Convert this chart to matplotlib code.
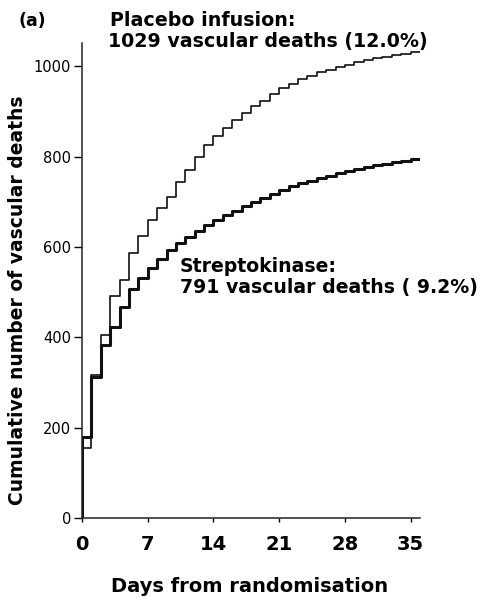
import numpy as np
import matplotlib
matplotlib.use('Agg')
import matplotlib.pyplot as plt

plt.rcParams['font.family'] = ['DejaVu Sans']

# cumulative vascular deaths at the end of each day 0..35
placebo = [155, 317, 405, 491, 528, 587, 625, 661, 687, 712,
           745, 771, 800, 827, 847, 864, 882, 898, 912, 924,
           938, 952, 962, 972, 980, 987, 993, 999, 1004, 1009,
           1014, 1018, 1022, 1025, 1028, 1031]
strepto = [180, 312, 383, 424, 468, 507, 532, 553, 574, 593,
           609, 623, 636, 648, 659, 670, 681, 691, 700, 709,
           718, 727, 735, 741, 747, 753, 758, 763, 768, 773,
           777, 781, 785, 788, 791, 794]
x_ticks = [0, 7, 14, 21, 28, 35]
y_ticks = [0, 200, 400, 600, 800, 1000]

days = np.arange(len(placebo))
xs = np.concatenate([[0], days, [36]])

fig = plt.figure(figsize=(4.92, 5.98), dpi=100)
ax = fig.add_axes([82/492, 80/598, 338/492, 475/598])

for vals, lw in [(placebo, 1.2), (strepto, 2.2)]:
    ys = np.concatenate([[0], vals, [vals[-1]]])
    ax.plot(xs, ys, drawstyle='steps-post', color='#111111', lw=lw)

ax.set_xlim(0, 36)
ax.set_ylim(0, 1052)
ax.spines['top'].set_visible(False)
ax.spines['right'].set_visible(False)
for s in ['left', 'bottom']:
    ax.spines[s].set_linewidth(1.1)
    ax.spines[s].set_color('#222222')

ax.set_xticks(x_ticks)
ax.set_yticks(y_ticks)
ax.tick_params(axis='x', length=3, width=1, pad=9, labelsize=14)
ax.tick_params(axis='y', length=6, width=1, pad=2, labelsize=10.5)
for t in ax.get_xticklabels():
    t.set_fontweight('bold')

ax.set_xlabel('Days from randomisation', fontsize=14, fontweight='bold', va='center')
ax.xaxis.set_label_coords(0.5 - 1/338, (518 - 587) / 475)
ax.set_ylabel('Cumulative number of vascular deaths', fontsize=13.5, fontweight='bold', va='center')
ax.yaxis.set_label_coords((18 - 82) / 338, (518 - 300) / 475)

def px(x, y):
    return x / 492, 1 - y / 598

fig.text(*px(18, 21), '(a)', fontsize=12.5, fontweight='bold', va='center')
fig.text(*px(110, 21), 'Placebo infusion:', fontsize=13.7, fontweight='bold', va='center')
fig.text(*px(108, 42), '1029 vascular deaths (12.0%)', fontsize=13.7, fontweight='bold', va='center')
fig.text(*px(180, 267), 'Streptokinase:', fontsize=13.6, fontweight='bold', va='center')
fig.text(*px(180, 287), '791 vascular deaths ( 9.2%)', fontsize=13.6, fontweight='bold', va='center')

fig.savefig('out.png', dpi=100)
